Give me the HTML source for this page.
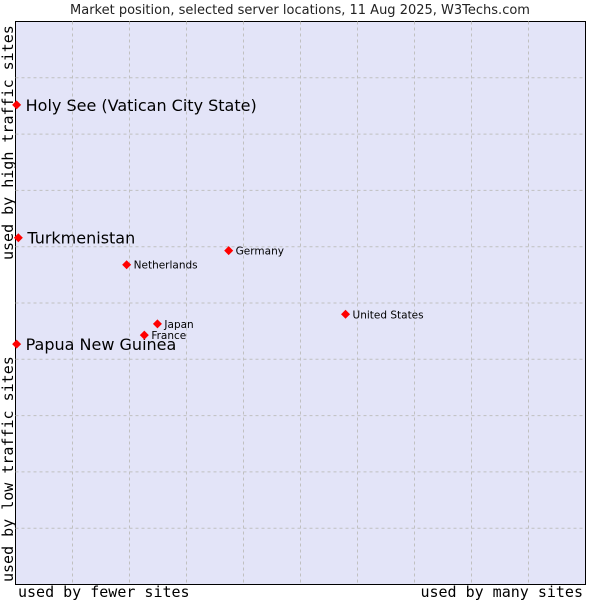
<!DOCTYPE html>
<html><head><meta charset="utf-8"><style>
body{margin:0;background:#fff}
svg text{font-family:"DejaVu Sans","Liberation Sans",sans-serif}
.mono{font-family:"DejaVu Sans Mono","Liberation Mono",monospace}
</style></head><body>
<svg id="chart" width="600" height="600">
<text x="300" y="14" text-anchor="middle" font-size="13" fill="#222">Market position, selected server locations, 11 Aug 2025, W3Techs.com</text>
<rect x="15.5" y="21.5" width="570" height="563" fill="#e3e4f8" stroke="#000"/>
<g id="grid"></g>
<g id="points"></g>
<text class="mono" x="18" y="597" font-size="15" fill="#000">used by fewer sites</text>
<text class="mono" x="583" y="597" font-size="15" text-anchor="end" fill="#000">used by many sites</text>
<text class="mono" transform="translate(13,582) rotate(-90)" font-size="15" fill="#000">used by low traffic sites</text>
<text class="mono" transform="translate(13,260) rotate(-90)" font-size="15" fill="#000">used by high traffic sites</text>
</svg>
<script>
const names=["Holy See (Vatican City State)","Turkmenistan","Papua New Guinea","Netherlands","Germany","United States","Japan","France"];
const xVals=[0.2,0.5,0.2,19.5,37.4,57.9,24.9,22.6];
const yVals=[85.2,61.6,42.7,56.8,59.3,48.0,46.3,44.3];
const big=[true,true,true,false,false,false,false,false];
const L=15.5,T=21.5,W=570,H=563;
const sx=v=>L+v/100*W, sy=v=>T+H-v/100*H;
const ns="http://www.w3.org/2000/svg";
const grid=document.getElementById('grid'), pts=document.getElementById('points');
for(let i=1;i<10;i++){
  const v=document.createElementNS(ns,'line');
  v.setAttribute('x1',sx(i*10));v.setAttribute('x2',sx(i*10));v.setAttribute('y1',T);v.setAttribute('y2',T+H);
  v.setAttribute('stroke','#c0c0c0');v.setAttribute('stroke-dasharray','3,3');
  
  
  grid.appendChild(v);
  const h=document.createElementNS(ns,'line');
  h.setAttribute('y1',sy(i*10));h.setAttribute('y2',sy(i*10));h.setAttribute('x1',L);h.setAttribute('x2',L+W);
  h.setAttribute('stroke','#c0c0c0');h.setAttribute('stroke-dasharray','3,3');
  
  
  grid.appendChild(h);
}
names.forEach((n,i)=>{
  const x=sx(xVals[i]),y=sy(yVals[i]);
  const d=document.createElementNS(ns,'path');
  d.setAttribute('d',`M${x} ${y-4.5}L${x+4.5} ${y}L${x} ${y+4.5}L${x-4.5} ${y}Z`);
  d.setAttribute('fill','#ff0000');
  
  
  pts.appendChild(d);
  const t=document.createElementNS(ns,'text');
  t.setAttribute('x',x+(big[i]?9:7));t.setAttribute('y',y+(big[i]?6:4));
  t.setAttribute('font-size',big[i]?16:10.5);t.setAttribute('fill','#000');
  t.textContent=n;
  
  
  pts.appendChild(t);
});
</script>
</body></html>
